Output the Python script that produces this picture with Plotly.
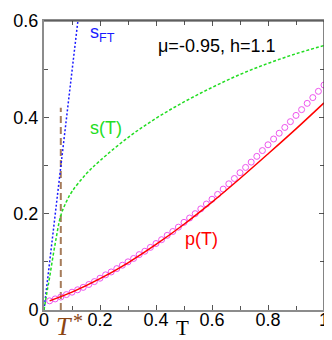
import plotly.graph_objects as go

# ---- data ----
T_sft = [0.0, 0.125]
s_ft = [0.0, 0.62]

T_s = [0.0, 0.01, 0.02, 0.04, 0.06, 0.08, 0.10, 0.15, 0.20, 0.30, 0.40, 0.50, 0.60, 0.70, 0.80, 0.90, 1.00]
s_vals = [0.0, 0.035, 0.068, 0.138, 0.196, 0.225, 0.246, 0.282, 0.310, 0.358, 0.398, 0.432, 0.462, 0.489, 0.512, 0.532, 0.549]

T_p = [0.02, 0.10, 0.20, 0.30, 0.40, 0.50, 0.60, 0.70, 0.80, 0.90, 1.00]
p_vals = [0.019, 0.037, 0.065, 0.098, 0.136, 0.178, 0.224, 0.273, 0.324, 0.376, 0.430]

T_c = [0.02, 0.04, 0.06, 0.08, 0.10, 0.12, 0.14, 0.16, 0.18, 0.20,
       0.22, 0.24, 0.26, 0.28, 0.30, 0.32, 0.34, 0.36, 0.38, 0.40,
       0.42, 0.44, 0.46, 0.48, 0.50, 0.52, 0.54, 0.56, 0.58, 0.60,
       0.62, 0.64, 0.66, 0.68, 0.70, 0.72, 0.74, 0.76, 0.78, 0.80,
       0.82, 0.84, 0.86, 0.88, 0.90, 0.92, 0.94, 0.96, 0.98, 1.00]
c_vals = [0.019, 0.023, 0.027, 0.032, 0.037, 0.042, 0.047, 0.053, 0.059, 0.066,
          0.073, 0.079, 0.086, 0.093, 0.100, 0.107, 0.115, 0.122, 0.130, 0.138,
          0.146, 0.155, 0.163, 0.172, 0.182, 0.191, 0.200, 0.210, 0.220, 0.230,
          0.240, 0.251, 0.262, 0.273, 0.285, 0.296, 0.307, 0.319, 0.331, 0.343,
          0.355, 0.367, 0.379, 0.391, 0.404, 0.416, 0.429, 0.441, 0.454, 0.467]

T_star = 0.06
T_star_line = [0.0, 0.42]

x_ticks = [0, 0.2, 0.4, 0.6, 0.8, 1.0]
x_ticktext = ["0", "0.2", "0.4", "0.6", "0.8", "1"]
y_ticks = [0, 0.2, 0.4, 0.6]
y_ticktext = ["0", "0.2", "0.4", "0.6"]

fig = go.Figure()

fig.add_trace(go.Scatter(x=[T_star, T_star], y=T_star_line, mode="lines",
                         line=dict(color="#a67c5b", width=2, dash="7px,4px"),
                         showlegend=False))
fig.add_trace(go.Scatter(x=T_sft, y=s_ft, mode="lines",
                         line=dict(color="#1a1aff", width=1.5, dash="2px,2px"),
                         showlegend=False))
fig.add_trace(go.Scatter(x=T_s, y=s_vals, mode="lines", line_shape="spline",
                         line=dict(color="#22dd22", width=1.5, dash="3px,2px"),
                         showlegend=False))
fig.add_trace(go.Scatter(x=T_c, y=c_vals, mode="markers",
                         marker=dict(symbol="circle-open", size=6, color="#ee55ee",
                                     line=dict(width=1)),
                         cliponaxis=False, showlegend=False))
fig.add_trace(go.Scatter(x=T_p, y=p_vals, mode="lines", line_shape="spline",
                         line=dict(color="#ff0000", width=1.5),
                         showlegend=False))

tickfont = dict(family="Liberation Sans, Arial, sans-serif", size=18, color="black")

fig.update_xaxes(range=[0, 1], tickvals=x_ticks, ticktext=x_ticktext,
                 ticks="inside", ticklen=5, tickcolor="#555", mirror="ticks",
                 showline=True, linecolor="#8c8c8c", linewidth=2,
                 showgrid=False, zeroline=False, tickfont=tickfont,
                 automargin=False, ticklabelstandoff=-8,
                 minor=dict(dtick=0.1, ticks="inside", ticklen=4, tickcolor="#555"))
fig.update_yaxes(range=[0, 0.6], tickvals=y_ticks, ticktext=y_ticktext,
                 ticks="inside", ticklen=5, tickcolor="#555", mirror="ticks",
                 showline=True, linecolor="#8c8c8c", linewidth=2,
                 showgrid=False, zeroline=False, tickfont=tickfont,
                 automargin=False,
                 minor=dict(dtick=0.1, ticks="inside", ticklen=4, tickcolor="#555"))

# top and right frame lines (thin, dark)
fig.add_shape(type="line", xref="paper", yref="paper", x0=0, x1=1, y0=1, y1=1,
              line=dict(color="#333", width=1.2))
fig.add_shape(type="line", xref="paper", yref="paper", x0=1, x1=1, y0=0, y1=1,
              line=dict(color="#333", width=1.2))

ann_font = "Liberation Sans, Arial, sans-serif"
fig.add_annotation(x=0.40, y=0.549, text="μ=-0.95, h=1.1", showarrow=False,
                   xanchor="left", yanchor="middle",
                   font=dict(family=ann_font, size=18, color="black"))
fig.add_annotation(x=0.158, y=0.378, text="s(T)", showarrow=False,
                   xanchor="left", yanchor="middle",
                   font=dict(family=ann_font, size=18, color="#22dd22"))
fig.add_annotation(x=0.497, y=0.147, text="p(T)", showarrow=False,
                   xanchor="left", yanchor="middle",
                   font=dict(family=ann_font, size=18, color="#ff0000"))
fig.add_annotation(x=0.158, y=0.575, text="s<sub>FT</sub>", showarrow=False,
                   xanchor="left", yanchor="middle",
                   font=dict(family=ann_font, size=18, color="#1a1aff"))
fig.add_annotation(x=0.036, y=-0.058, xref="x", yref="paper", text="<i>T</i>",
                   showarrow=False, xanchor="left", yanchor="middle",
                   font=dict(family="Liberation Serif, serif", size=26, color="#8b4513"))
fig.add_annotation(x=0.12, y=-0.038, xref="x", yref="paper", text="*",
                   showarrow=False, xanchor="center", yanchor="middle",
                   font=dict(family="Liberation Serif, serif", size=20, color="#8b4513"))
fig.add_annotation(x=0.496, y=-0.062, xref="x", yref="paper", text="T",
                   showarrow=False, xanchor="center", yanchor="middle",
                   font=dict(family="Liberation Serif, serif", size=21, color="black"))

# the page body adds an 8px offset; size the figure so the plot lands where the reference has it
fig.update_layout(width=324, height=332, margin=dict(l=36, r=8, t=13, b=30),
                  plot_bgcolor="white", paper_bgcolor="white", showlegend=False)

fig.write_html("out.html")
